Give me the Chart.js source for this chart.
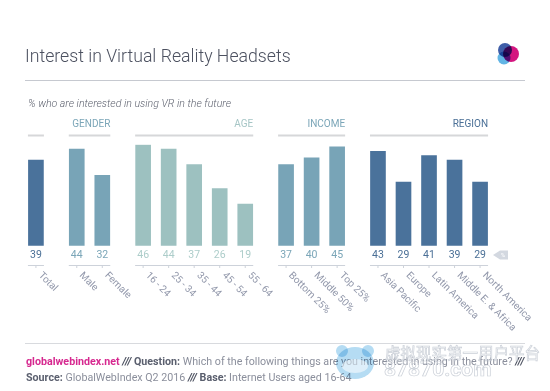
<!DOCTYPE html>
<html>
<head>
<meta charset="utf-8">
<title>Interest in Virtual Reality Headsets</title>
<script src="https://cdn.jsdelivr.net/npm/chart.js@4/dist/chart.umd.min.js"></script>
<style>
  html, body { margin: 0; padding: 0; background: #fff; }
  #wrap { width: 550px; height: 391px; position: relative; }
</style>
</head>
<body>
<div id="wrap"><canvas id="chart" width="550" height="391"></canvas></div>
<script>
// data
const categories = ['Total', 'Male', 'Female', '16 - 24', '25 - 34', '35 - 44', '45 - 54', '55 - 64',
  'Bottom 25%', 'Middle 50%', 'Top 25%', 'Asia Pacific', 'Europe', 'Latin America', 'Middle E. & Africa', 'North America'];
const values = [39, 44, 32, 46, 44, 37, 26, 19, 37, 40, 45, 43, 29, 41, 39, 29];
const groupNames = ['', 'GENDER', 'AGE', 'INCOME', 'REGION'];
const groupSizes = [1, 2, 5, 3, 5];

const barColors = ['#4a729b', '#78a4b7', '#9dc1c0', '#78a4b7', '#4a729b'];
const valueColors = ['#4a6f96', '#7ba6b8', '#adcdca', '#7ba6b8', '#4a6f96'];
const groupGap = 1.6;
const FONT = 'Roboto, sans-serif';
const LABEL = '#9298ab';

// bar slots, with a wider step between groups
const slots = [];
const groupIdx = [];
let pos = 0;
groupSizes.forEach((size, g) => {
  for (let i = 0; i < size; i++) {
    slots.push(pos);
    groupIdx.push(g);
    pos += i === size - 1 ? groupGap : 1;
  }
});

function text(ctx, str, x, y, font, color, align) {
  ctx.font = font;
  ctx.fillStyle = color;
  ctx.textAlign = align || 'left';
  ctx.textBaseline = 'middle';
  ctx.fillText(str, x, y);
}

function rule(ctx, x1, x2, y, color, width) {
  ctx.strokeStyle = color;
  ctx.lineWidth = width;
  ctx.beginPath();
  ctx.moveTo(x1, y);
  ctx.lineTo(x2, y);
  ctx.stroke();
}

// several coloured bits on the same line
function runs(ctx, parts, x, y) {
  parts.forEach(([str, font, color]) => {
    ctx.font = font;
    text(ctx, str, x, y, font, color);
    x += ctx.measureText(str).width;
  });
}

const decorations = {
  id: 'decorations',
  afterDatasetsDraw(chart) {
    const ctx = chart.ctx;
    const xs = chart.scales.x;
    ctx.save();

    text(ctx, 'Interest in Virtual Reality Headsets', 25, 58, '300 17.7px ' + FONT, '#4c5160');
    rule(ctx, 25, 525, 80.5, '#c6c9d0', 1);
    text(ctx, '% who are interested in using VR in the future', 28, 104, 'italic 300 10.6px ' + FONT, '#5f6370');

    // logo
    ctx.globalCompositeOperation = 'multiply';
    [[504, 58, 6.5, '#62b5e5'], [505, 50, 7, '#3f5ea8'], [511, 54, 8, '#d4157f']].forEach(([x, y, r, c]) => {
      ctx.fillStyle = c;
      ctx.beginPath();
      ctx.arc(x, y, r, 0, Math.PI * 2);
      ctx.fill();
    });
    ctx.globalCompositeOperation = 'source-over';

    // group titles and rules
    let start = 0;
    groupSizes.forEach((size, g) => {
      const left = xs.getPixelForValue(slots[start]) - 8;
      const right = xs.getPixelForValue(slots[start + size - 1]) + 8;
      rule(ctx, left, right, 135.5, '#d6d7d9', 2);
      rule(ctx, left, right, 265.5, '#cdd2da', 1);
      if (groupNames[g]) {
        text(ctx, groupNames[g], right, 124, '10px ' + FONT, valueColors[g] === '#adcdca' ? '#a5c5c5' : valueColors[g], 'right');
      }
      start += size;
    });

    // value labels, tick marks, slanted category labels
    categories.forEach((name, i) => {
      const x = xs.getPixelForValue(slots[i]);
      text(ctx, String(values[i]), x, 255, '10.5px ' + FONT, valueColors[groupIdx[i]], 'center');
      ctx.strokeStyle = '#cdd2da';
      ctx.lineWidth = 1;
      ctx.beginPath();
      ctx.moveTo(x, 265);
      ctx.lineTo(x, 268);
      ctx.stroke();
      ctx.save();
      ctx.translate(x + 4, 274);
      ctx.rotate(Math.PI / 4);
      text(ctx, name, 0, 0, '10px ' + FONT, LABEL);
      ctx.restore();
    });

    // little % tag after the last value
    ctx.fillStyle = '#d3d8e0';
    ctx.beginPath();
    ctx.moveTo(493, 255);
    ctx.lineTo(500, 250.5);
    ctx.lineTo(508, 250.5);
    ctx.lineTo(508, 259.5);
    ctx.lineTo(500, 259.5);
    ctx.closePath();
    ctx.fill();
    text(ctx, '%', 503, 255, '6px ' + FONT, '#ffffff', 'center');

    // footer
    rule(ctx, 25, 525, 343.5, '#d8dade', 1);
    const bold = '700 10.7px ' + FONT;
    const reg = '10.7px ' + FONT;
    runs(ctx, [
      ['globalwebindex.net', bold, '#d6288f'],
      [' /// ', 'italic ' + bold, '#4c5160'],
      ['Question: ', bold, '#5a5f6e'],
      ['Which of the following things are you interested in using in the future? ', reg, '#8b8f9c'],
      ['///', 'italic ' + bold, '#4c5160']
    ], 26, 362);
    runs(ctx, [
      ['Source: ', bold, '#5a5f6e'],
      ['GlobalWebIndex Q2 2016 ', reg, '#8b8f9c'],
      ['/// ', 'italic ' + bold, '#4c5160'],
      ['Base: ', bold, '#5a5f6e'],
      ['Internet Users aged 16-64', reg, '#8b8f9c']
    ], 26, 378);

    // watermark, see-through so the footer still reads under it
    ctx.globalCompositeOperation = 'multiply';
    ctx.fillStyle = '#b5dcf3';
    ctx.beginPath();
    ctx.arc(342, 351, 6, 0, Math.PI * 2);
    ctx.arc(368, 351, 6, 0, Math.PI * 2);
    ctx.fill();
    ctx.beginPath();
    ctx.ellipse(355, 363, 19, 16, 0, 0, Math.PI * 2);
    ctx.fill();
    ctx.globalCompositeOperation = 'source-over';
    ctx.fillStyle = 'rgba(255,255,255,0.55)';
    ctx.beginPath();
    ctx.ellipse(355, 366, 13, 7, 0, 0, Math.PI * 2);
    ctx.fill();
    ctx.strokeStyle = 'rgba(190,196,206,0.8)';
    ctx.lineWidth = 0.7;
    ctx.fillStyle = 'rgba(255,255,255,0.35)';
    ctx.textAlign = 'left';
    ctx.textBaseline = 'middle';
    ctx.font = '15.5px "Noto Sans CJK SC"';
    ctx.fillText('虚拟现实第一用户平台', 385, 353);
    ctx.strokeText('虚拟现实第一用户平台', 385, 353);
    ctx.font = '700 21px ' + FONT;
    ctx.fillText('87870.com', 384, 371);
    ctx.strokeText('87870.com', 384, 371);

    ctx.restore();
  }
};

new Chart(document.getElementById('chart'), {
  type: 'bar',
  data: {
    datasets: [{
      data: slots.map((s, i) => ({ x: s, y: values[i] })),
      backgroundColor: groupIdx.map(g => barColors[g]),
      barThickness: 15,
      borderWidth: 0
    }]
  },
  options: {
    responsive: false,
    animation: false,
    events: [],
    layout: { padding: { left: 10.4, right: 44.4, top: 144.7, bottom: 145.3 } },
    plugins: { legend: { display: false }, tooltip: { enabled: false } },
    scales: {
      x: { type: 'linear', min: -1, max: 18.4, offset: false, display: false },
      y: { min: 0, max: 46, display: false }
    }
  },
  plugins: [decorations]
});
</script>
</body>
</html>
